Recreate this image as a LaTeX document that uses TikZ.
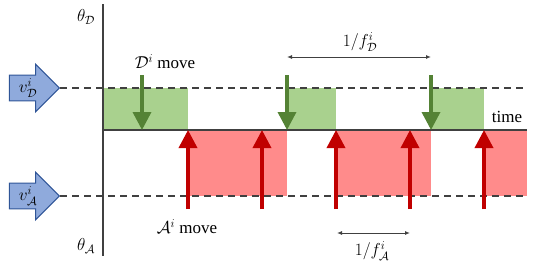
\documentclass[tikz,border=0pt]{standalone}
\usepackage{amsmath,amssymb}
\usepackage{fontspec}
\setmainfont{Liberation Serif}
\usetikzlibrary{arrows.meta,positioning,calc,shapes.arrows}
\definecolor{MoveGreen}{HTML}{548235}
\definecolor{ZoneGreen}{HTML}{A9D18E}
\definecolor{MoveRed}{HTML}{C00000}
\definecolor{ZoneRed}{HTML}{FF8B8B}
\definecolor{FlowBlue}{HTML}{8FAADC}
\definecolor{FlowEdge}{HTML}{2F5597}
\definecolor{AxisGray}{HTML}{404040}

\begin{document}
\begin{tikzpicture}[x=1pt,y=-1pt,every node/.style={font=\fontsize{17}{19}\selectfont,align=center,inner sep=1pt},
    axisline/.style={AxisGray,line width=2pt},
    levelline/.style={AxisGray,line width=1.5pt,dash pattern=on 7pt off 5pt},
    flowarrow/.style={single arrow,draw=FlowEdge,fill=FlowBlue,line width=1pt,minimum height=50pt,minimum width=47pt,single arrow head extend=11pt,single arrow head indent=0pt,inner sep=3pt},
    greenmove/.style={MoveGreen,line width=3.5pt,-{Triangle[length=18pt,width=18pt]}},
    redmove/.style={MoveRed,line width=3.5pt,-{Triangle[length=18pt,width=18pt]}},
    period/.style={AxisGray,line width=1pt,{Latex[length=5pt,width=4pt]}-{Latex[length=5pt,width=4pt]}}]
    \useasboundingbox (0,0) rectangle (540,265);
    % zones
    \foreach \a/\b in {103/188,287/336,431/484}{\fill[ZoneGreen] (\a,88) rectangle (\b,130);}
    \foreach \a/\b in {188/287,336/431,484/527}{\fill[ZoneRed] (\a,130) rectangle (\b,196);}
    % inputs
    \node[flowarrow] (vD) at (28,88) {$v^i_{\mathcal{D}}$};
    \node[flowarrow] (vA) at (28,196) {$v^i_{\mathcal{A}}$};
    \coordinate (lvD) at (527,88);
    \coordinate (lvA) at (527,196);
    \draw[levelline] (vD.tip) -- (lvD);
    \draw[levelline] (vA.tip) -- (lvA);
    % axes
    \coordinate (top) at (103,4);
    \coordinate (bot) at (103,256);
    \coordinate (origin) at (103,130);
    \coordinate (tend) at (527,130);
    \draw[axisline] (top) -- (bot);
    \draw[axisline] (origin) -- (tend);
    \node (thetaD) at (86,17) {$\theta_{\mathcal{D}}$};
    \node (thetaA) at (86,246) {$\theta_{\mathcal{A}}$};
    \node (time) at (507,117) {time};
    % moves
    \foreach \x [count=\k] in {142,287,431}{\coordinate (gs\k) at (\x,75); \coordinate (ge\k) at (\x,130); \draw[greenmove] (gs\k)--(ge\k);}
    \foreach \x [count=\k] in {188,262,336,410,484}{\coordinate (rs\k) at (\x,209); \coordinate (re\k) at (\x,130); \draw[redmove] (rs\k)--(re\k);}
    \node (Dmove) at (165,62) {$\mathcal{D}^i$ move};
    \node (Amove) at (187,227) {$\mathcal{A}^i$ move};
    % periods
    \coordinate (pD1) at (287,57);
    \coordinate (pD2) at (431,57);
    \coordinate (pA1) at (337,233);
    \coordinate (pA2) at (410,233);
    \draw[period] (pD1) -- (pD2);
    \draw[period] (pA1) -- (pA2);
    \node (fD) at (360,42) {$1/f^i_{\mathcal{D}}$};
    \node (fA) at (372,251) {$1/f^i_{\mathcal{A}}$};
  \end{tikzpicture}
\end{document}
